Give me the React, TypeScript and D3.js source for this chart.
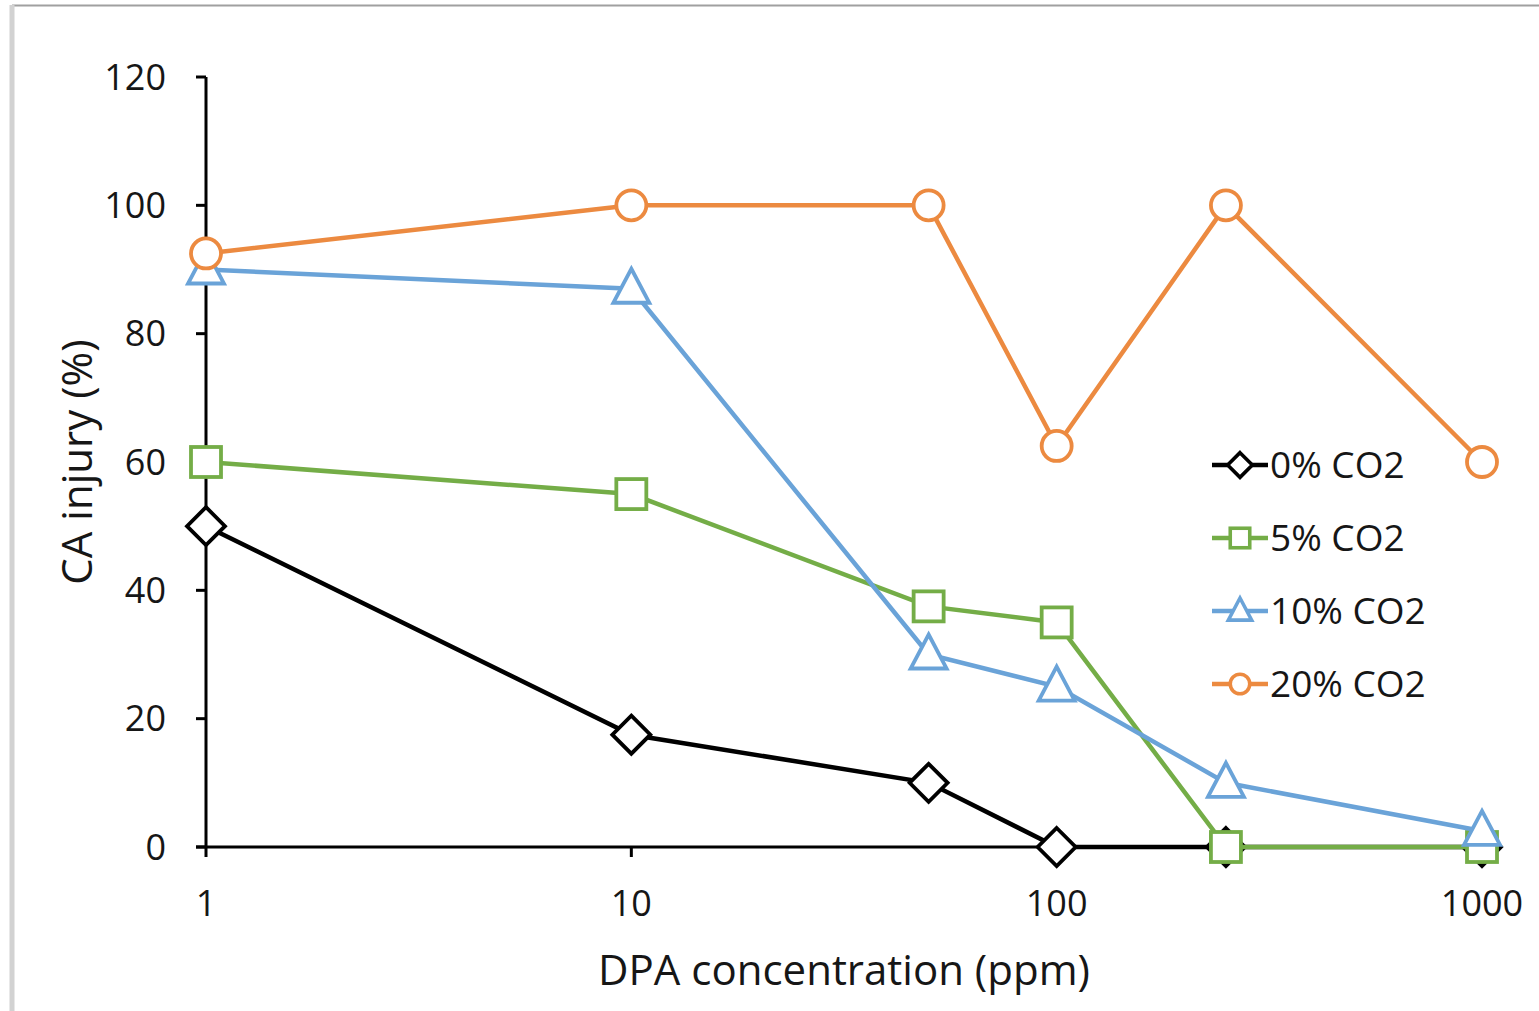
import React from "react";
import * as d3 from "d3";

// DPA concentrations (ppm)
const doses = [1, 10, 50, 100, 250, 1000];

// CA injury (%) per CO2 level
const co2_0 = [50, 17.5, 10, 0, 0, 0];
const co2_5 = [60, 55, 37.5, 35, 0, 0];
const co2_10 = [90, 87, 30, 25, 10, 2.5];
const co2_20 = [92.5, 100, 100, 62.5, 100, 60];

const yTicks = [0, 20, 40, 60, 80, 100, 120];
const xTicks = [1, 10, 100, 1000];

const seriesNames = ["0% CO2", "5% CO2", "10% CO2", "20% CO2"];

const W = 1539;
const H = 1011;
const font = "'Open Sans', sans-serif";
const ink = "#161616";

const series = [
  { name: seriesNames[0], values: co2_0, color: "#000000", shape: "diamond" },
  { name: seriesNames[1], values: co2_5, color: "#74ad47", shape: "square" },
  { name: seriesNames[2], values: co2_10, color: "#6aa3d8", shape: "triangle" },
  { name: seriesNames[3], values: co2_20, color: "#ec8a40", shape: "circle" },
];

const Marker = ({ shape, x, y, color, sw = 3.8 }: any) => {
  if (shape === "circle")
    return <circle cx={x} cy={y} r={15} fill="#fff" stroke={color} strokeWidth={sw} />;
  if (shape === "square")
    return <rect x={x - 15} y={y - 15} width={30} height={30} fill="#fff" stroke={color} strokeWidth={sw} />;
  if (shape === "triangle")
    return (
      <path
        d={`M${x},${y - 20}L${x + 18},${y + 14}L${x - 18},${y + 14}Z`}
        fill="#fff"
        stroke={color}
        strokeWidth={sw}
      />
    );
  return (
    <path
      d={`M${x},${y - 19}L${x + 19},${y}L${x},${y + 19}L${x - 19},${y}Z`}
      fill="#fff"
      stroke={color}
      strokeWidth={sw}
    />
  );
};

export default function App() {
  const x = d3.scaleLog().domain([1, 1000]).range([206, 1482]);
  const y = d3.scaleLinear().domain([0, 120]).range([847, 77]);

  const line = d3
    .line<number>()
    .x((_, i) => x(doses[i]))
    .y((d) => y(d));

  const legendX = 1212;
  const legendY = [465, 538, 611, 684];

  return (
    <svg
      width={W}
      height={H}
      style={{ position: "absolute", left: 0, top: 0, background: "#fff" }}
    >
      {/* frame */}
      <line x1={12} x2={W} y1={5.5} y2={5.5} stroke="#a0a0a0" strokeWidth={2} />
      <line x1={12} x2={12} y1={5} y2={H} stroke="#d2d2d2" strokeWidth={5} />

      {/* y axis */}
      <line x1={x(1)} x2={x(1)} y1={y(120)} y2={y(0)} stroke="#000" strokeWidth={3} />
      {yTicks.map((t) => (
        <g key={t}>
          <line x1={x(1) - 10} x2={x(1)} y1={y(t)} y2={y(t)} stroke="#000" strokeWidth={3} />
          <text
            x={166}
            y={y(t)}
            dy="0.35em"
            textAnchor="end"
            fontFamily={font}
            fontSize={36}
            fill={ink}
          >
            {t}
          </text>
        </g>
      ))}

      {/* x axis */}
      <line x1={x(1) - 10} x2={x(1000)} y1={y(0)} y2={y(0)} stroke="#000" strokeWidth={3} />
      {xTicks.map((t) => (
        <g key={t}>
          <line x1={x(t)} x2={x(t)} y1={y(0)} y2={y(0) + 10} stroke="#000" strokeWidth={3} />
          <text
            x={x(t)}
            y={916}
            textAnchor="middle"
            fontFamily={font}
            fontSize={36}
            fill={ink}
          >
            {t}
          </text>
        </g>
      ))}

      {/* axis titles */}
      <text x={844} y={985} textAnchor="middle" fontFamily={font} fontSize={42} fill={ink}>
        DPA concentration (ppm)
      </text>
      <text
        transform={`translate(92,${y(60)}) rotate(-90)`}
        textAnchor="middle"
        fontFamily={font}
        fontSize={42}
        fill={ink}
      >
        CA injury (%)
      </text>

      {/* series */}
      {series.map((s) => (
        <g key={s.name}>
          <path d={line(s.values) || ""} fill="none" stroke={s.color} strokeWidth={4.5} />
          {s.values.map((v, i) => (
            <Marker key={i} shape={s.shape} x={x(doses[i])} y={y(v)} color={s.color} />
          ))}
        </g>
      ))}

      {/* legend */}
      {series.map((s, i) => (
        <g key={s.name}>
          <line
            x1={legendX}
            x2={legendX + 56}
            y1={legendY[i]}
            y2={legendY[i]}
            stroke={s.color}
            strokeWidth={4.5}
          />
          <g transform={`translate(${legendX + 28},${legendY[i]}) scale(0.65)`}>
            <Marker shape={s.shape} x={0} y={0} color={s.color} sw={5.5} />
          </g>
          <text
            x={legendX + 58}
            y={legendY[i]}
            dy="0.35em"
            fontFamily={font}
            fontSize={37}
            fill={ink}
          >
            {s.name}
          </text>
        </g>
      ))}
    </svg>
  );
}
